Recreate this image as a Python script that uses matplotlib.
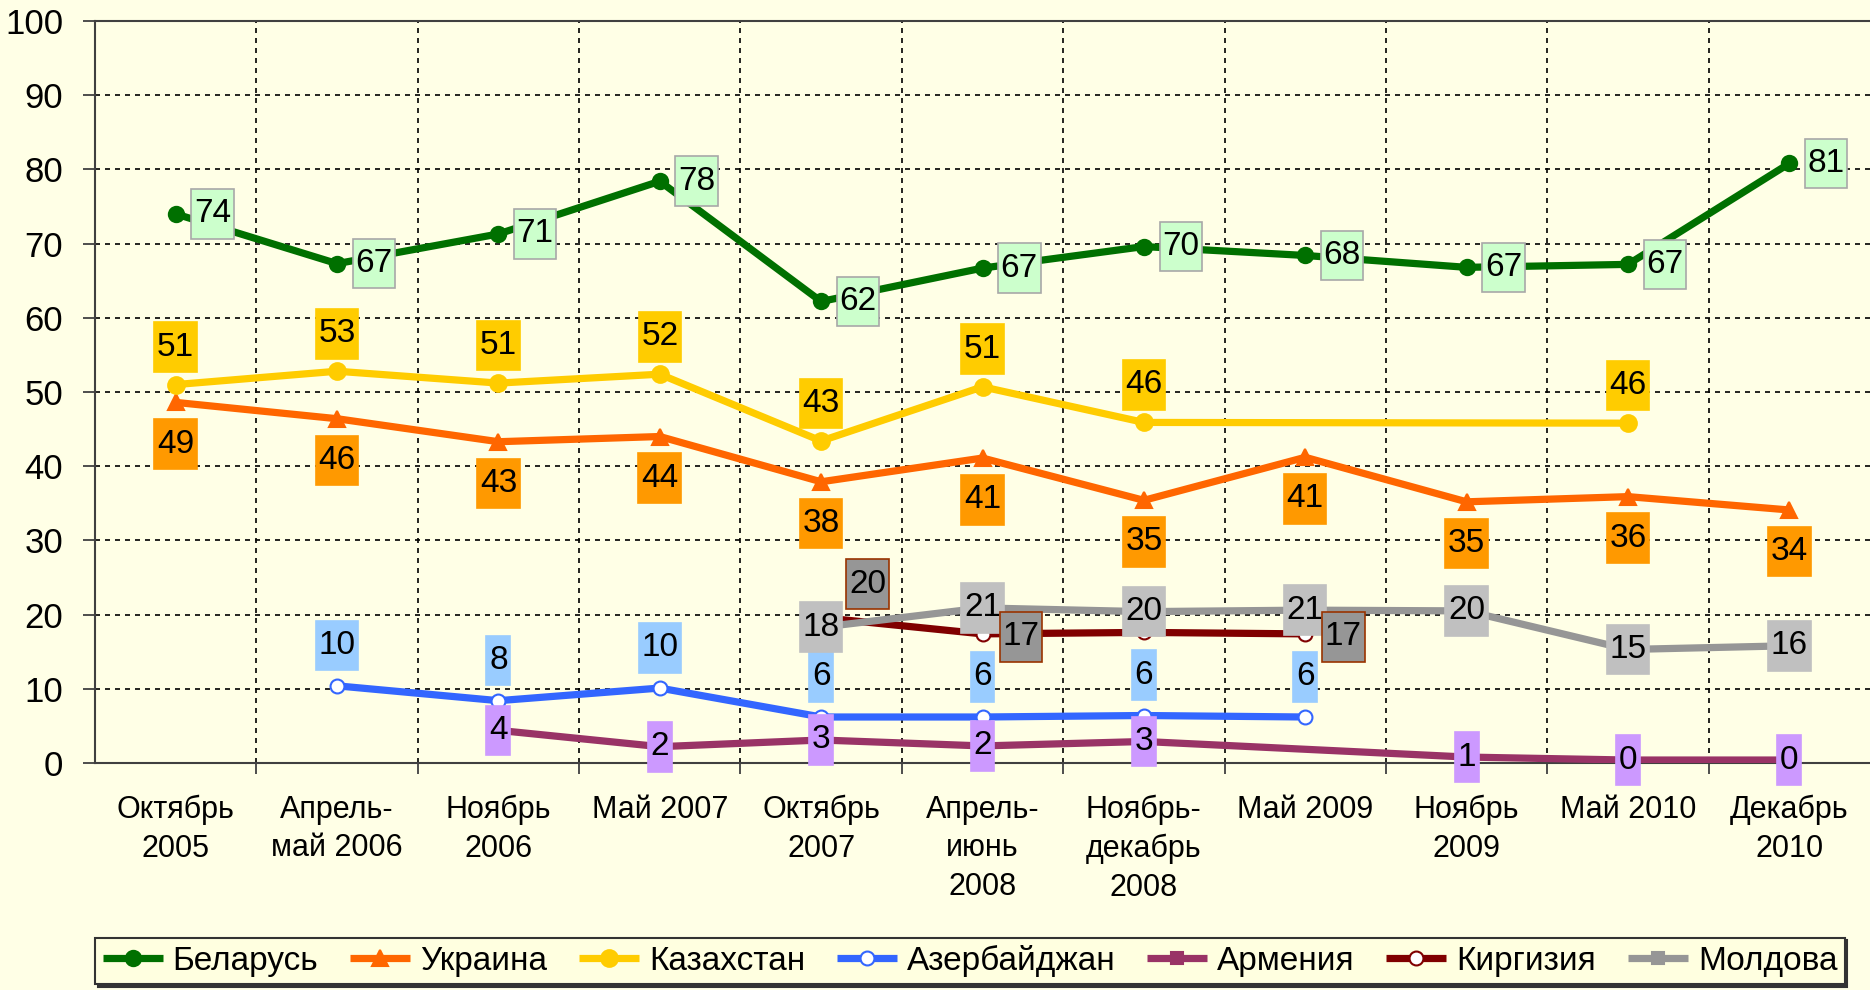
import numpy as np
import matplotlib
matplotlib.use("Agg")
import matplotlib.pyplot as plt
from matplotlib.path import Path
from matplotlib.ticker import MultipleLocator, FixedLocator

plt.rcParams['font.family'] = ['Liberation Sans', 'DejaVu Sans']

nan = np.nan

# -------- data --------
periods = ["Октябрь\n2005", "Апрель-\nмай 2006", "Ноябрь\n2006", "Май 2007",
           "Октябрь\n2007", "Апрель-\nиюнь\n2008", "Ноябрь-\nдекабрь\n2008",
           "Май 2009", "Ноябрь\n2009", "Май 2010", "Декабрь\n2010"]

belarus = [74.0, 67.3, 71.3, 78.4, 62.2, 66.7, 69.6, 68.4, 66.8, 67.2, 80.8]
ukraine = [48.6, 46.4, 43.3, 44.0, 37.9, 41.1, 35.4, 41.2, 35.2, 35.9, 34.1]
kazakhstan = [51.0, 52.8, 51.2, 52.4, 43.4, 50.7, 45.9, nan, nan, 45.8, nan]
azerbaijan = [nan, 10.4, 8.4, 10.1, 6.2, 6.2, 6.4, 6.2, nan, nan, nan]
armenia = [nan, nan, 4.4, 2.2, 3.1, 2.3, 2.9, nan, 0.8, 0.4, 0.4]
kyrgyzstan = [nan, nan, nan, nan, 19.6, 17.4, 17.6, 17.4, nan, nan, nan]
moldova = [nan, nan, nan, nan, 18.3, 20.9, 20.4, 20.6, 20.5, 15.3, 15.8]

# label of Kyrgyzstan at Nov-Dec 2008 is hidden in the original
kyrgyz_hidden = [6]

bg = "#FFFFE6"


def tallbox(x0, y0, width, height, mutation_size):
    # square label box, little side padding, more above/below
    px = 0.08 * mutation_size
    py = 0.28 * mutation_size
    x0, x1 = x0 - px, x0 + width + px
    y0, y1 = y0 - py, y0 + height + py
    return Path([(x0, y0), (x1, y0), (x1, y1), (x0, y1), (x0, y0)], closed=True)


fig = plt.figure(figsize=(18.7, 9.9), dpi=100, facecolor=bg)
ax = fig.add_axes([95 / 1870, 227 / 990, 1775 / 1870, 742 / 990])
ax.set_facecolor(bg)

x = np.arange(len(periods))


def draw(vals, color, marker, ms, mfc, label, z):
    v = np.array(vals, dtype=float)
    m = ~np.isnan(v)
    ax.plot(x[m], v[m], color=color, lw=5.2, marker=marker, ms=ms,
            mfc=mfc, mec=color, mew=1.5, label=label, zorder=z,
            solid_capstyle="butt")


def labels(vals, fc, ec, dx, dy, z, skip=(), first=None):
    v = np.array(vals, dtype=float)
    idx = np.where(~np.isnan(v))[0]
    for i in idx:
        if i in skip:
            continue
        off = first if (first is not None and i == idx[0]) else (dx, dy)
        ax.annotate(f"{v[i]:.0f}", (x[i], v[i]), xytext=off,
                    textcoords="offset points", ha="center", va="center",
                    fontsize=24, zorder=z,
                    bbox=dict(boxstyle=tallbox, fc=fc, ec=ec, lw=1.2))


draw(belarus, "#007000", "o", 11, "#007000", "Беларусь", 3)
draw(ukraine, "#FF6600", "^", 12, "#FF6600", "Украина", 3.1)
draw(kazakhstan, "#FFCC00", "o", 12, "#FFCC00", "Казахстан", 3.2)
draw(azerbaijan, "#3366FF", "o", 10, "white", "Азербайджан", 3.3)
draw(armenia, "#993366", "s", 9, "#993366", "Армения", 3.4)
draw(kyrgyzstan, "#800000", "o", 10, "white", "Киргизия", 3.5)
draw(moldova, "#969696", "s", 9, "#969696", "Молдова", 3.6)

labels(belarus, "#CCFFCC", "#A8A8A8", 26.5, 0, 10)
labels(ukraine, "#FF9900", "#FF9900", 0, -30, 10)
labels(kazakhstan, "#FFCC00", "#FFCC00", 0, 27, 10)
labels(azerbaijan, "#99CCFF", "#99CCFF", 0, 29, 10)
labels(armenia, "#CC99FF", "#CC99FF", 0, 0, 10)
labels(moldova, "#C0C0C0", "#C0C0C0", 0, 0, 10)
labels(kyrgyzstan, "#969696", "#993300", 27.5, -2, 11,
       skip=kyrgyz_hidden, first=(33.5, 24))

# -------- axes --------
ax.set_xlim(-0.5, len(periods) - 0.5)
ax.set_ylim(0, 100)
ax.yaxis.set_major_locator(MultipleLocator(10))
ax.xaxis.set_major_locator(FixedLocator(x))
ax.xaxis.set_minor_locator(FixedLocator(x[:-1] + 0.5))
ax.set_xticklabels(periods, fontsize=22, linespacing=1.37)
ax.tick_params(axis="x", which="major", length=0, pad=23)
ax.tick_params(axis="x", which="minor", length=8, width=1.3, color="#404040",
               direction="out")
ax.tick_params(axis="y", length=9, width=1.3, color="#404040", pad=14,
               labelsize=25)

ax.grid(True, axis="y", which="major", ls=(0, (3, 3)), color="black", lw=1.2)
ax.grid(True, axis="x", which="minor", ls=(0, (3, 3)), color="black", lw=1.2)
ax.set_axisbelow(True)
for s in ["left", "bottom", "top"]:
    ax.spines[s].set_color("#404040")
    ax.spines[s].set_linewidth(1.5)
ax.spines["right"].set_visible(False)

leg = fig.legend(loc="center", bbox_to_anchor=(970 / 1870, 1 - 961 / 990),
                 ncol=7, fontsize=24, frameon=True, fancybox=False,
                 handlelength=1.8, handletextpad=0.3, columnspacing=0.95,
                 borderpad=0.22, borderaxespad=0, facecolor="#FFFFE0",
                 edgecolor="#333333", shadow={"color": "#333333", "alpha": 1})
leg.get_frame().set_linewidth(1.5)
leg.get_frame().set_alpha(1)

fig.savefig("out.png", dpi=100, facecolor=bg)
